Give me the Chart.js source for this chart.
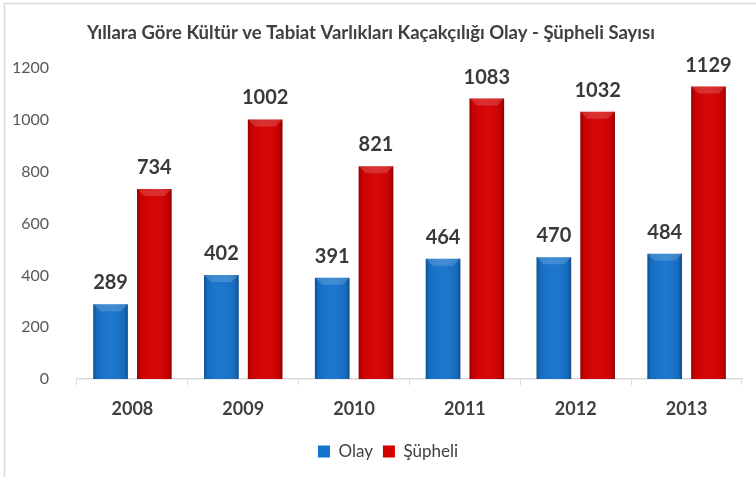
<!DOCTYPE html>
<html>
<head>
<meta charset="utf-8">
<script src="https://cdn.jsdelivr.net/npm/chart.js@4"></script>
<style>
  html, body { margin: 0; padding: 0; background: #fff; }
  #wrap { width: 756px; height: 477px; position: relative; }
</style>
</head>
<body>
<div id="wrap"><canvas id="chart"></canvas></div>
<script>
// ===== Data =====
const years = ['2008', '2009', '2010', '2011', '2012', '2013'];
const olay = [289, 402, 391, 464, 470, 484];
const supheli = [734, 1002, 821, 1083, 1032, 1129];
const yTicks = [0, 200, 400, 600, 800, 1000, 1200];

const FONT = 'Lato, "Open Sans", sans-serif';

// ===== Outer frame (light grey border) =====
const framePlugin = {
  id: 'frame',
  beforeDraw(chart) {
    const c = chart.ctx;
    c.save();
    c.fillStyle = '#fff';
    c.fillRect(0, 0, chart.width, chart.height);
    c.strokeStyle = '#d9d9d9';
    c.lineWidth = 1.5;
    c.beginPath();
    c.moveTo(4.5, chart.height);
    c.lineTo(4.5, 3.5);
    c.lineTo(chart.width, 3.5);
    c.stroke();
    c.restore();
  },
  // legend sits a bit right of centre in the original
  afterLayout(chart) {
    if (chart.legend) {
      chart.legend.left += 17;
      chart.legend.right += 17;
    }
  }
};

// ===== Bevel / shading on the bars =====
const bevelPlugin = {
  id: 'bevel',
  afterDatasetsDraw(chart) {
    const c = chart.ctx;
    chart.data.datasets.forEach((ds, di) => {
      const meta = chart.getDatasetMeta(di);
      meta.data.forEach(el => {
        const w = el.width, left = el.x - w / 2, top = el.y, bottom = el.base;
        c.save();
        // side shading
        const g = c.createLinearGradient(left, 0, left + w, 0);
        g.addColorStop(0, 'rgba(0,0,0,0.30)');
        g.addColorStop(0.1, 'rgba(0,0,0,0.06)');
        g.addColorStop(0.5, 'rgba(255,255,255,0.03)');
        g.addColorStop(0.9, 'rgba(0,0,0,0.08)');
        g.addColorStop(1, 'rgba(0,0,0,0.35)');
        c.fillStyle = g;
        c.fillRect(left, top, w, bottom - top);
        // top bevel
        const b = 7;
        c.fillStyle = 'rgba(255,255,255,0.16)';
        c.beginPath();
        c.moveTo(left, top);
        c.lineTo(left + w, top);
        c.lineTo(left + w - b, top + b);
        c.lineTo(left + b, top + b);
        c.closePath();
        c.fill();
        c.restore();
      });
    });
  }
};

// ===== Value labels above the bars =====
const valueLabels = {
  id: 'valueLabels',
  afterDatasetsDraw(chart) {
    const c = chart.ctx;
    c.save();
    c.font = 'bold 20px ' + FONT;
    c.fillStyle = '#3a3a3a';
    c.textAlign = 'center';
    c.textBaseline = 'alphabetic';
    chart.data.datasets.forEach((ds, di) => {
      chart.getDatasetMeta(di).data.forEach((el, i) => {
        c.fillText(ds.data[i], el.x, el.y - 15);
      });
    });
    c.restore();
  }
};

const ctx = document.getElementById('chart').getContext('2d');

new Chart(ctx, {
  type: 'bar',
  data: {
    labels: years,
    datasets: [
      { label: 'Olay', data: olay, backgroundColor: '#1673cc', borderWidth: 0 },
      { label: 'Şüpheli', data: supheli, backgroundColor: '#d50000', borderWidth: 0 }
    ]
  },
  options: {
    responsive: true,
    maintainAspectRatio: false,
    animation: false,
    categoryPercentage: 0.79,
    barPercentage: 0.79,
    layout: { padding: { left: 0, right: 14, top: 0, bottom: 7 } },
    plugins: {
      title: {
        display: true,
        text: 'Yıllara Göre Kültür ve Tabiat Varlıkları Kaçakçılığı Olay - Şüpheli Sayısı',
        color: '#404040',
        font: { family: FONT, size: 18.5, weight: 'bold' },
        padding: { top: 22, bottom: 24 }
      },
      legend: {
        position: 'bottom',
        labels: {
          color: '#404040',
          font: { family: FONT, size: 17 },
          boxWidth: 12,
          boxHeight: 12,
          padding: 10
        }
      },
      tooltip: { enabled: false }
    },
    scales: {
      x: {
        grid: { drawOnChartArea: false, color: '#d9d9d9', tickLength: 6 },
        border: { color: '#d9d9d9', width: 1.5 },
        ticks: { color: '#404040', font: { family: FONT, size: 18, weight: 'bold' }, padding: 13 },
        afterFit(scale) { scale.height = 54; }
      },
      y: {
        min: 0,
        max: 1200,
        grid: { display: false },
        border: { display: false },
        afterBuildTicks(scale) { scale.ticks = yTicks.map(v => ({ value: v })); },
        ticks: {
          color: '#595959',
          font: { family: FONT, size: 16 },
          padding: 20,
          callback: v => String(v)
        },
        afterFit(scale) { scale.width = 77; }
      }
    }
  },
  plugins: [framePlugin, bevelPlugin, valueLabels]
});
</script>
</body>
</html>
